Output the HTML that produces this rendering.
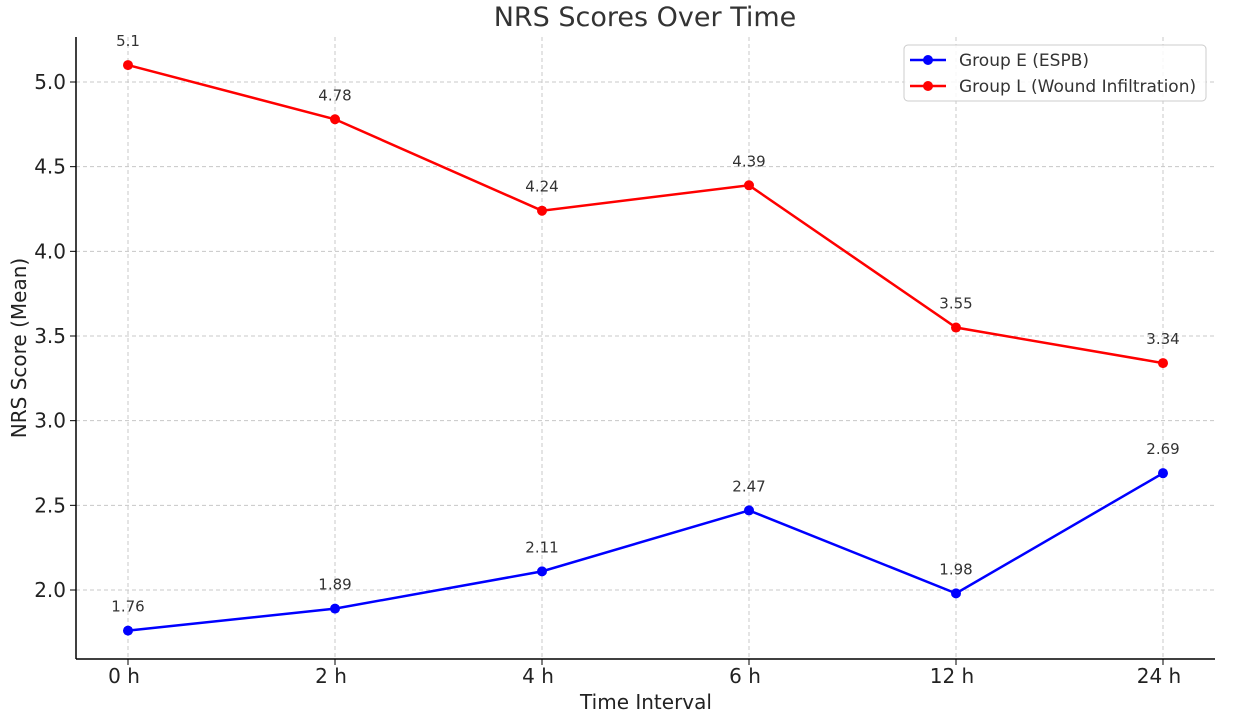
<!DOCTYPE html>
<html><head><meta charset="utf-8"><style>
body{margin:0;background:#fff;font-family:"Liberation Sans","DejaVu Sans",sans-serif;}
svg text{font-family:"DejaVu Sans","Liberation Sans",sans-serif;}
</style></head><body>
<svg id="chart" width="1234" height="717" xmlns="http://www.w3.org/2000/svg">
<g id="grid"></g>
<g id="axes"></g>
<g id="series"></g>
<text x="645" y="26" text-anchor="middle" font-size="27" fill="#333">NRS Scores Over Time</text>
<text x="646" y="709" text-anchor="middle" font-size="20" fill="#222">Time Interval</text>
<text x="26" y="348" text-anchor="middle" font-size="20" fill="#222" transform="rotate(-90 26 348)">NRS Score (Mean)</text>
<g>
<rect x="904" y="45" width="302" height="56" rx="4" fill="#fff" fill-opacity="0.85" stroke="#ccc"/>
<g>
<line x1="910" y1="60" x2="946" y2="60" stroke="#0000ff" stroke-width="2.5"/><circle cx="928" cy="60" r="5" fill="#0000ff"/>
<text x="959" y="66" font-size="17" fill="#333">Group E (ESPB)</text></g>
<g>
<line x1="910" y1="86" x2="946" y2="86" stroke="#ff0000" stroke-width="2.5"/><circle cx="928" cy="86" r="5" fill="#ff0000"/>
<text x="959" y="92" font-size="17" fill="#333">Group L (Wound Infiltration)</text></g>
</g>
</svg>
<script>
const categories=["0 h","2 h","4 h","6 h","12 h","24 h"];
const groupE=[1.76,1.89,2.11,2.47,1.98,2.69];
const groupL=[5.1,4.78,4.24,4.39,3.55,3.34];
const yTicks=[2.0,2.5,3.0,3.5,4.0,4.5,5.0];
const NS="http://www.w3.org/2000/svg";
const xs=i=>128+i*207;
const ys=v=>82+(5-v)*169.333;
function mk(tag,attrs,parent){const e=document.createElementNS(NS,tag);for(const k in attrs)e.setAttribute(k,attrs[k]);parent.appendChild(e);return e;}
const grid=document.getElementById('grid'),axes=document.getElementById('axes'),series=document.getElementById('series');
categories.forEach((c,i)=>{
 const g=mk('line',{x1:xs(i),x2:xs(i),y1:37,y2:659,stroke:'#c8c8c8','stroke-dasharray':'4,3'},grid);
 
 
 const t=mk('line',{x1:xs(i),x2:xs(i),y1:659,y2:665,stroke:'#000'},axes);
 
 
 const l=mk('text',{x:xs(i)-4,y:683,'text-anchor':'middle','font-size':20,fill:'#222'},axes);l.textContent=c;
 
 
});
yTicks.forEach(v=>{
 const g=mk('line',{x1:76,x2:1215,y1:ys(v),y2:ys(v),stroke:'#c8c8c8','stroke-dasharray':'4,3'},grid);
 
 
 const t=mk('line',{x1:70,x2:76,y1:ys(v),y2:ys(v),stroke:'#000'},axes);
 
 
 const l=mk('text',{x:66,y:ys(v)+7,'text-anchor':'end','font-size':20,fill:'#222'},axes);l.textContent=v.toFixed(1);
 
 
});
const sp1=mk('line',{x1:76,x2:76,y1:37,y2:659,stroke:'#000','stroke-width':1.5},axes);


const sp2=mk('line',{x1:76,x2:1215,y1:659,y2:659,stroke:'#000','stroke-width':1.5},axes);


function draw(vals,color,name){
 const p=mk('polyline',{points:vals.map((v,i)=>xs(i)+','+ys(v)).join(' '),fill:'none',stroke:color,'stroke-width':2.5},series);
 
 
 vals.forEach((v,i)=>{
  const c=mk('circle',{cx:xs(i),cy:ys(v),r:5,fill:color},series);
  
  
  const t=mk('text',{x:xs(i),y:ys(v)-19,'text-anchor':'middle','font-size':15,fill:'#333'},series);t.textContent=String(v);
  
  
 });
}
draw(groupL,'#ff0000','group-l');
draw(groupE,'#0000ff','group-e');
</script>
</body></html>
